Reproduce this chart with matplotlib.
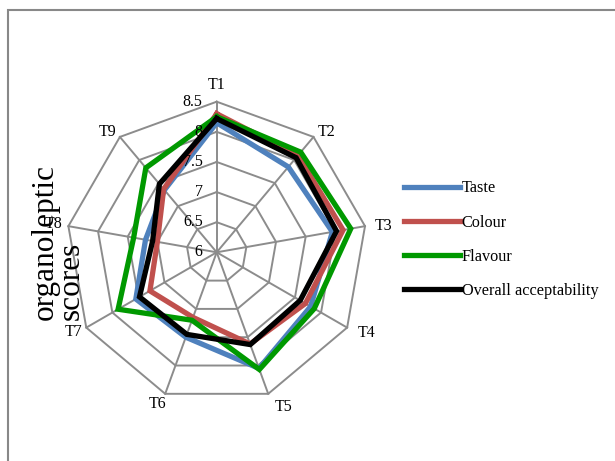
import numpy as np
import matplotlib
matplotlib.use("Agg")
import matplotlib.pyplot as plt
from matplotlib.patches import Rectangle

plt.rcParams['font.family'] = ['Liberation Serif', 'DejaVu Serif']

treatments = ["T1", "T2", "T3", "T4", "T5", "T6", "T7", "T8", "T9"]
taste = [8.15, 7.85, 7.95, 7.80, 8.05, 7.50, 7.55, 7.20, 7.35]
colour = [8.30, 8.10, 8.13, 7.70, 7.62, 7.15, 7.28, 7.00, 7.37]
flavour = [8.25, 8.17, 8.26, 7.87, 8.07, 7.20, 7.89, 7.40, 7.83]
overall = [8.22, 8.05, 8.02, 7.60, 7.63, 7.45, 7.48, 7.08, 7.48]
series_names = ["Taste", "Colour", "Flavour", "Overall acceptability"]
ring_values = [6, 6.5, 7, 7.5, 8, 8.5]
ring_labels = ["6", "6.5", "7", "7.5", "8", "8.5"]

colors = ["#4F81BD", "#C0504D", "#009900", "#000000"]
grid_color = "#8C8C8C"

W, H = 615, 461
fig = plt.figure(figsize=(W / 100, H / 100), dpi=100)

# outer frame
fig.patches.append(Rectangle((8 / W, -0.2), 1.2, 1 - 10 / H + 0.2,
                             transform=fig.transFigure, fill=False,
                             edgecolor="#888888", linewidth=1.5))

cx, cy, R = 216.7, 252.3, 150.6
ax = fig.add_axes([(cx - R) / W, 1 - (cy + R) / H, 2 * R / W, 2 * R / H],
                  projection="polar")
ax.set_theta_zero_location("N")
ax.set_theta_direction(-1)
ax.set_ylim(ring_values[0], ring_values[-1])
ax.grid(False)
ax.spines["polar"].set_visible(False)
ax.set_xticks([])
ax.set_yticks([])
ax.patch.set_alpha(0)

n = len(treatments)
theta = np.arange(n) * 2 * np.pi / n
theta_closed = np.append(theta, theta[0])

# polygonal rings and spokes
for rv in ring_values[1:]:
    ax.plot(theta_closed, [rv] * (n + 1), color=grid_color, lw=1.4, zorder=1,
            clip_on=False)
for t in theta:
    ax.plot([t, t], [ring_values[0], ring_values[-1]], color=grid_color,
            lw=1.4, zorder=1, clip_on=False)

# ring value labels along the T1 spoke
for rv, lab in zip(ring_values, ring_labels):
    r_px = (rv - ring_values[0]) / (ring_values[-1] - ring_values[0]) * R
    fig.text((cx - 14) / W, 1 - (cy - r_px) / H, lab, ha="right",
             va="center", fontsize=11.5)

# category labels, offset (px) from the outer vertex of each spoke
label_offsets = [(0, -17), (13, -5), (18, 0), (19, 5), (15, 13),
                 (-8, 10), (-13, 4), (-15, -2), (-12, -5)]
for t, lab, (ox, oy) in zip(theta, treatments, label_offsets):
    x = cx + R * np.sin(t) + ox
    y = cy - R * np.cos(t) + oy
    fig.text(x / W, 1 - y / H, lab, ha="center", va="center", fontsize=11.5)

for vals, name, c in zip([taste, colour, flavour, overall], series_names, colors):
    ax.plot(theta_closed, list(vals) + [vals[0]], color=c, lw=3.8,
            label=name, zorder=3, clip_on=False, solid_joinstyle="miter")

leg = fig.legend(loc="upper left", bbox_to_anchor=(398 / W, 1 - 174 / H),
                 frameon=False, fontsize=11.7, handlelength=3.4,
                 handletextpad=0.12, labelspacing=1.12, borderaxespad=0)

fig.text(58 / W, 1 - 242 / H, "organoleptic\nscores", rotation=90,
         ha="center", va="center", multialignment="left", fontsize=22.5,
         linespacing=0.85)

fig.savefig("out.png", dpi=100)
